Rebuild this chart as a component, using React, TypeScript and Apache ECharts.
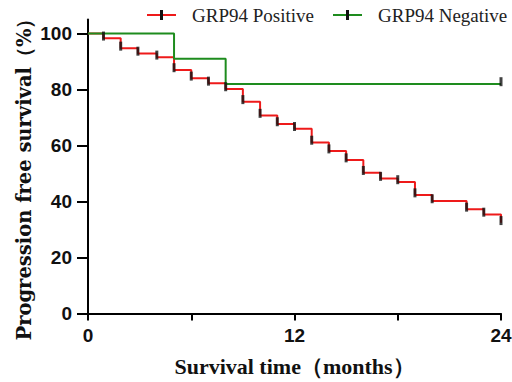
import React, { useEffect, useRef } from 'react';
import * as echarts from 'echarts';

const seriesNames = ['GRP94 Positive', 'GRP94 Negative'];
const seriesColors = ['#ee1a1a', '#1e8c1e'];

// Kaplan–Meier steps (time in months, survival %)
const positiveTimes = [0, 0.9, 1.9, 2.9, 4, 5, 6, 7, 8, 9, 10, 11, 12, 13, 14, 15, 16, 17, 18, 19, 20, 22, 23, 24];
const positiveSurvival = [100, 98.3, 94.7, 92.9, 91.5, 87.0, 84.0, 82.2, 80.2, 75.6, 70.7, 67.7, 66.0, 61.1, 58.0, 54.8, 50.3, 48.2, 47.0, 42.3, 40.2, 37.2, 35.4, 32.4];
const negativeTimes = [0, 5, 8, 24];
const negativeSurvival = [100, 91, 82, 82];

// censor / step tick marks
const positiveMarkTimes = positiveTimes.slice(1);
const positiveMarkValues = positiveSurvival.slice(1);
const negativeMarkTimes = [24];
const negativeMarkValues = [82];

const xTickInterval = 6;
const xLabelValues = [0, 12, 24];
const yTickValues = [0, 20, 40, 60, 80, 100];

const xTitle = 'Survival time（months）';
const yTitle = 'Progression free survival（%）';

const zip = (a: number[], b: number[]) => a.map((v, i) => [v, b[i]]);

export default function App() {
  const ref = useRef<HTMLDivElement>(null);
  useEffect(() => {
    if (!ref.current) return;
    const chart = echarts.init(ref.current, null, { renderer: 'svg' });
    const tickFont = { fontSize: 19, fontWeight: 'bold' as const, fontFamily: 'Liberation Sans', color: '#111' };
    const legendPos = [
      { lineX: 147, textX: 192 },
      { lineX: 333, textX: 378 },
    ];
    const legendGraphics: any[] = [];
    seriesNames.forEach((name, i) => {
      const p = legendPos[i];
      legendGraphics.push({
        type: 'line',
        shape: { x1: p.lineX, y1: 15, x2: p.lineX + 29, y2: 15 },
        style: { stroke: seriesColors[i], lineWidth: 2 },
      });
      legendGraphics.push({
        type: 'rect',
        shape: { x: p.lineX + 13, y: 10, width: 3, height: 10 },
        style: { fill: '#111' },
      });
      legendGraphics.push({
        type: 'text',
        x: p.textX,
        y: 15,
        style: {
          text: name,
          fill: '#222',
          fontSize: 19,
          fontFamily: 'Liberation Serif',
          verticalAlign: 'middle',
          align: 'left',
        },
      });
    });

    chart.setOption({
      animation: false,
      backgroundColor: '#fff',
      grid: { left: 88, right: 11, top: 19.5, bottom: 68.5, containLabel: false, outerBoundsMode: 'none' },
      xAxis: {
        type: 'value',
        min: 0,
        max: 24,
        interval: xTickInterval,
        axisLine: { show: true, onZero: false, lineStyle: { color: '#000', width: 2 } },
        axisTick: { show: true, length: 7, lineStyle: { color: '#000', width: 2 } },
        axisLabel: {
          ...tickFont,
          margin: 12,
          formatter: (v: number) => (xLabelValues.includes(v) ? String(v) : ''),
        },
        splitLine: { show: false },
        name: xTitle,
        nameLocation: 'middle',
        nameGap: 42,
        nameTextStyle: { fontSize: 22, fontWeight: 'bold', fontFamily: 'Liberation Serif', color: '#111' },
      },
      yAxis: {
        type: 'value',
        min: 0,
        max: 105,
        axisLine: { show: true, onZero: false, lineStyle: { color: '#000', width: 2 } },
        axisTick: { show: true, length: 11, lineStyle: { color: '#000', width: 2 }, customValues: yTickValues },
        axisLabel: { ...tickFont, margin: 16, customValues: yTickValues },
        splitLine: { show: false },
        name: yTitle,
        nameLocation: 'middle',
        nameGap: 54,
        nameMoveOverlap: false,
        nameTextStyle: {
          fontSize: 19.5,
          fontWeight: 'bold',
          fontFamily: 'DejaVu Serif',
          color: '#111',
          padding: [0, 16, 0, 0],
        },
      },
      graphic: legendGraphics,
      series: [
        {
          name: seriesNames[0],
          type: 'line',
          step: 'end',
          data: zip(positiveTimes, positiveSurvival),
          symbol: 'none',
          lineStyle: { color: seriesColors[0], width: 2 },
          itemStyle: { color: seriesColors[0] },
          silent: true,
          z: 2,
        },
        {
          name: seriesNames[1],
          type: 'line',
          step: 'end',
          data: zip(negativeTimes, negativeSurvival),
          symbol: 'none',
          lineStyle: { color: seriesColors[1], width: 2 },
          itemStyle: { color: seriesColors[1] },
          silent: true,
          z: 3,
        },
        {
          type: 'scatter',
          data: zip(positiveMarkTimes, positiveMarkValues),
          symbol: 'rect',
          symbolSize: [3, 9],
          symbolOffset: [0, -2.2],
          itemStyle: { color: '#111' },
          silent: true,
          z: 4,
        },
        {
          type: 'scatter',
          data: zip(negativeMarkTimes, negativeMarkValues),
          symbol: 'rect',
          symbolSize: [3, 9],
          symbolOffset: [0, -2.2],
          itemStyle: { color: '#111' },
          silent: true,
          z: 4,
        },
      ],
    });
    return () => chart.dispose();
  }, []);
  return (
    <div
      ref={ref}
      style={{ position: 'fixed', left: 0, top: 0, width: 512, height: 382, background: '#fff' }}
    />
  );
}
